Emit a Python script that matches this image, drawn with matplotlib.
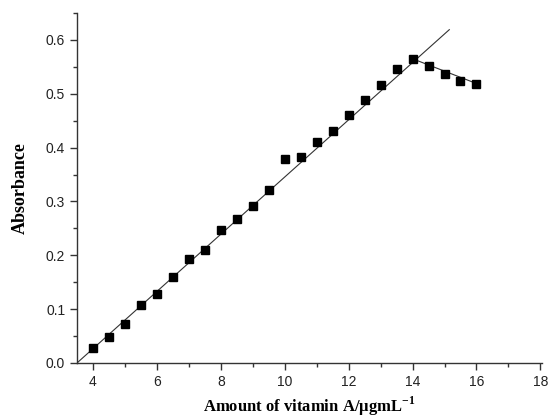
import matplotlib
matplotlib.use('Agg')
import matplotlib.pyplot as plt
from matplotlib.ticker import MultipleLocator

plt.rcParams['mathtext.fontset'] = 'custom'
plt.rcParams['mathtext.bf'] = 'Liberation Serif:bold'
plt.rcParams['mathtext.rm'] = 'Liberation Serif:bold'

amount = [4, 4.5, 5, 5.5, 6, 6.5, 7, 7.5, 8, 8.5, 9, 9.5, 10, 10.5,
          11, 11.5, 12, 12.5, 13, 13.5, 14, 14.5, 15, 15.5, 16]
absorbance = [0.028, 0.049, 0.072, 0.108, 0.128, 0.159, 0.193, 0.209,
              0.247, 0.268, 0.291, 0.322, 0.379, 0.383, 0.411, 0.431,
              0.461, 0.489, 0.517, 0.546, 0.565, 0.551, 0.536, 0.524, 0.519]

# fitted lines (end points)
fit_x = [3.5, 15.15]
fit_y = [0.0, 0.619]
drop_x = [14, 16]
drop_y = [0.565, 0.519]

fig = plt.figure(figsize=(5.48, 4.19), dpi=100)
ax = fig.add_axes([0.1405, 0.1337, 0.8485, 0.8353])

ax.plot(fit_x, fit_y, color='#333333', lw=0.8)
ax.plot(drop_x, drop_y, color='#333333', lw=0.8)
ax.plot(amount, absorbance, 's', color='black', markersize=6)

ax.set_xlim(3.5, 18.05)
ax.set_ylim(0, 0.65)
ax.xaxis.set_major_locator(MultipleLocator(2))
ax.xaxis.set_minor_locator(MultipleLocator(1))
ax.yaxis.set_major_locator(MultipleLocator(0.1))
ax.yaxis.set_minor_locator(MultipleLocator(0.05))
ax.set_xticks([4, 6, 8, 10, 12, 14, 16, 18])
ax.set_yticks([0.0, 0.1, 0.2, 0.3, 0.4, 0.5, 0.6])
ax.set_yticklabels(['0.0', '0.1', '0.2', '0.3', '0.4', '0.5', '0.6'])

for side in ['top', 'right']:
    ax.spines[side].set_visible(False)
for side in ['left', 'bottom']:
    ax.spines[side].set_color('#333333')
    ax.spines[side].set_linewidth(1.0)

ax.tick_params(which='major', direction='out', length=5, width=1,
               color='#333333', labelsize=10, labelcolor='#222222')
ax.tick_params(which='minor', direction='out', length=3, width=1,
               color='#333333')
for lab in ax.get_xticklabels() + ax.get_yticklabels():
    lab.set_family('Liberation Sans')

ax.set_xlabel('Amount of vitamin A/\u03bcgmL$^{\\mathbf{-1}}$',
              family='Liberation Serif', fontweight='bold', fontsize=12,
              labelpad=4)
ax.set_ylabel('Absorbance', family='Liberation Serif', fontweight='bold',
              fontsize=13, labelpad=12)

plt.savefig('out.png', dpi=100)
